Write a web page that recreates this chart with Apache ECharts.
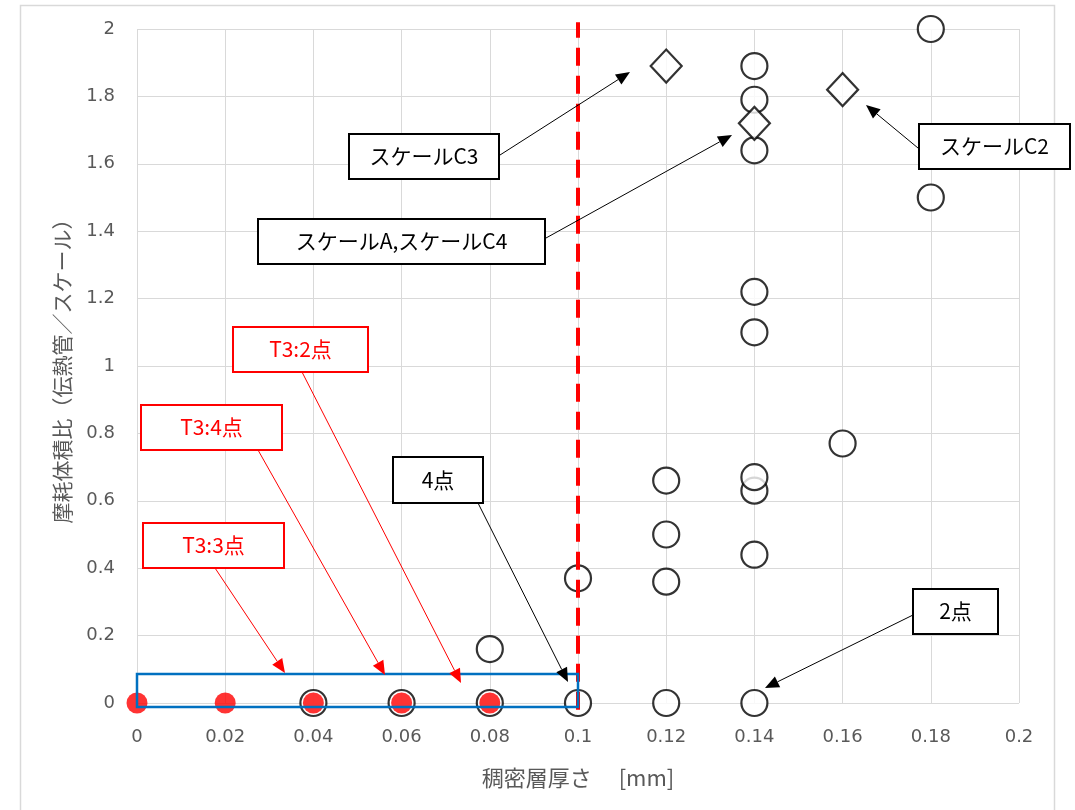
<!DOCTYPE html>
<html>
<head>
<meta charset="utf-8">
<script src="https://cdn.jsdelivr.net/npm/echarts@6/dist/echarts.min.js"></script>
<style>
html,body{margin:0;padding:0;background:#ffffff;}
#chart{width:1075px;height:810px;}
</style>
</head>
<body>
<div id="chart"></div>
<script>
// Wear volume ratio (tube / scale) against dense-layer thickness [mm]
const circlePoints = [
  [0.04, 0], [0.06, 0], [0.08, 0], [0.08, 0.16],
  [0.10, 0], [0.10, 0.37],
  [0.12, 0], [0.12, 0.36], [0.12, 0.50], [0.12, 0.66],
  [0.14, 0], [0.14, 0.44], [0.14, 0.63], [0.14, 0.67], [0.14, 1.10],
  [0.14, 1.22], [0.14, 1.64], [0.14, 1.79], [0.14, 1.89],
  [0.16, 0.77], [0.18, 1.50], [0.18, 2.00]
];
const diamondPoints = [[0.12, 1.89], [0.14, 1.72], [0.16, 1.82]];
const t3Points = [[0, 0], [0.02, 0], [0.04, 0], [0.06, 0], [0.08, 0]];
const thresholdLine = [[0.1, -0.02], [0.1, 2.02]];
const lowRegion = [[0, 0.086], [0.1, -0.012]];

const xTitle = '稠密層厚さ　 [mm]';
const yTitle = '摩耗体積比（伝熱管／スケール）';

// Callout boxes: [left, top, width, height], leader line from -> to
const callouts = [
  { text: 'スケールC3', box: [349, 134, 150, 45], from: [500, 155], to: [630, 72], color: '#000000', lw: 1 },
  { text: 'スケールA,スケールC4', box: [258, 219, 287, 45], from: [546, 238], to: [732, 135], color: '#000000', lw: 1 },
  { text: 'スケールC2', box: [919, 124, 151, 45], from: [918, 148], to: [866, 105], color: '#000000', lw: 1 },
  { text: 'T3:2点', box: [233, 327, 135, 45], from: [302, 372], to: [461, 683], color: '#ff0000', lw: 1 },
  { text: 'T3:4点', box: [141, 405, 141, 45], from: [258, 450], to: [385, 675], color: '#ff0000', lw: 1 },
  { text: 'T3:3点', box: [143, 523, 141, 45], from: [215, 568], to: [285, 673], color: '#ff0000', lw: 1 },
  { text: '4点', box: [393, 457, 90, 46], from: [478, 503], to: [568, 682], color: '#000000', lw: 1 },
  { text: '2点', box: [913, 589, 85, 45], from: [913, 615], to: [765, 688], color: '#000000', lw: 1 }
];

const chart = echarts.init(document.getElementById('chart'), null, { renderer: 'canvas' });

const labelStyle = { color: '#595959', fontSize: 18, fontFamily: '"DejaVu Sans", Verdana, sans-serif' };
const gridLine = { show: true, lineStyle: { color: '#d9d9d9', width: 1 } };

chart.setOption({
  animation: false,
  backgroundColor: '#ffffff',
  grid: { left: 137, right: 56, top: 29, bottom: 107 },
  xAxis: {
    type: 'value', min: 0, max: 0.2, interval: 0.02,
    axisLine: { show: false }, axisTick: { show: false },
    splitLine: gridLine,
    axisLabel: Object.assign({ margin: 25 }, labelStyle),
    name: xTitle, nameLocation: 'middle', nameGap: 64,
    nameTextStyle: { color: '#595959', fontSize: 22, fontFamily: 'Noto Sans CJK JP' }
  },
  yAxis: {
    type: 'value', min: 0, max: 2, interval: 0.2,
    axisLine: { show: false }, axisTick: { show: false },
    splitLine: gridLine,
    axisLabel: Object.assign({ margin: 22 }, labelStyle),
    name: yTitle, nameLocation: 'middle', nameGap: 64, nameRotate: 90,
    nameTextStyle: { color: '#595959', fontSize: 21, fontFamily: 'Noto Sans CJK JP' }
  },
  series: [
    {
      type: 'scatter', data: circlePoints, symbol: 'circle', symbolSize: 26, z: 3,
      itemStyle: { color: '#ffffff', borderColor: '#000000', borderWidth: 2.2 }
    },
    {
      type: 'scatter', data: diamondPoints, symbol: 'diamond', symbolSize: [31, 33], z: 4,
      itemStyle: { color: '#ffffff', borderColor: '#000000', borderWidth: 2.2 }
    },
    {
      type: 'scatter', data: t3Points, symbol: 'circle', symbolSize: 21, z: 5,
      itemStyle: { color: '#ff0000', borderWidth: 0 }
    },
    {
      type: 'line', data: thresholdLine, symbol: 'none', clip: false, z: 6,
      lineStyle: { color: '#ff0000', width: 4, type: [18, 10] }
    }
  ]
});

function arrowHead(from, to, len, half) {
  const dx = to[0] - from[0], dy = to[1] - from[1];
  const d = Math.hypot(dx, dy);
  const ux = dx / d, uy = dy / d;
  const bx = to[0] - ux * len, by = to[1] - uy * len;
  return [to, [bx - uy * half, by + ux * half], [bx + uy * half, by - ux * half]];
}

const elements = [];
// outer chart frame
elements.push({
  type: 'rect', z: 1, silent: true,
  shape: { x: 20.5, y: 5.5, width: 1034, height: 820 },
  style: { fill: null, stroke: '#d9d9d9', lineWidth: 1.5 }
});
// highlighted low-wear region
const p0 = chart.convertToPixel({ gridIndex: 0 }, lowRegion[0]);
const p1 = chart.convertToPixel({ gridIndex: 0 }, lowRegion[1]);
elements.push({
  type: 'rect', z: 50, silent: true,
  shape: { x: p0[0], y: p0[1], width: p1[0] - p0[0], height: p1[1] - p0[1] },
  style: { fill: null, stroke: '#0070c0', lineWidth: 2.5 }
});
callouts.forEach(function (c) {
  const end = arrowHead(c.from, c.to, 14, 6);
  const shaftEnd = [(end[1][0] + end[2][0]) / 2, (end[1][1] + end[2][1]) / 2];
  elements.push({
    type: 'line', z: 60, silent: true,
    shape: { x1: c.from[0], y1: c.from[1], x2: shaftEnd[0], y2: shaftEnd[1] },
    style: { stroke: c.color, lineWidth: c.lw }
  });
  elements.push({
    type: 'polygon', z: 61, silent: true,
    shape: { points: end },
    style: { fill: c.color }
  });
  elements.push({
    type: 'rect', z: 70, silent: true,
    shape: { x: c.box[0], y: c.box[1], width: c.box[2], height: c.box[3] },
    style: { fill: '#ffffff', stroke: c.color, lineWidth: 2 }
  });
  elements.push({
    type: 'text', z: 71, silent: true,
    x: c.box[0] + c.box[2] / 2, y: c.box[1] + c.box[3] / 2,
    style: {
      text: c.text, fill: c.color, fontSize: 21, fontFamily: 'Noto Sans CJK JP',
      align: 'center', verticalAlign: 'middle'
    }
  });
});
chart.setOption({ graphic: { elements: elements } });
</script>
</body>
</html>
